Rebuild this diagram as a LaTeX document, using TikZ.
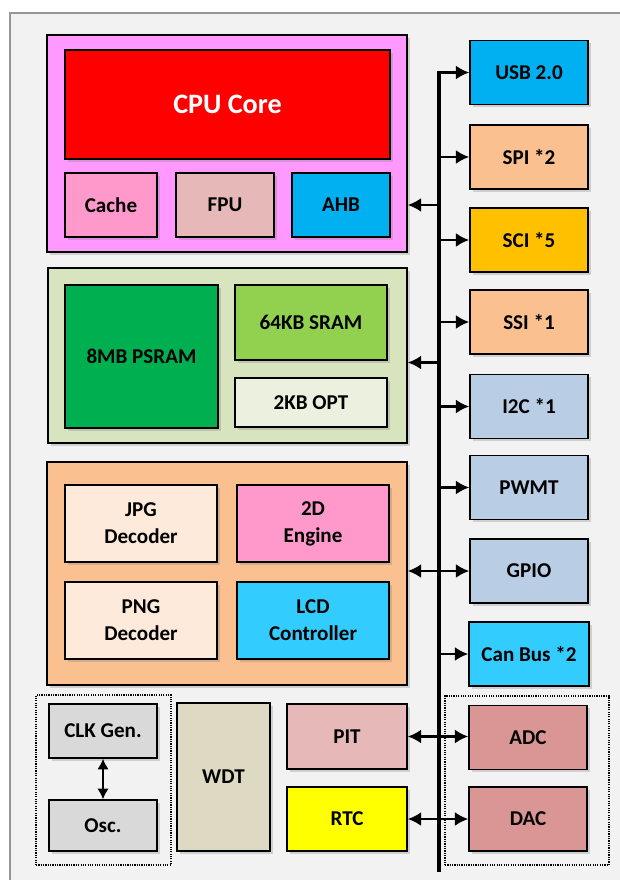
\documentclass[tikz,border=0pt]{standalone}
\usepackage{fontspec}
\setmainfont{Carlito}
\definecolor{FrameGray}{RGB}{242, 242, 242}
\definecolor{FrameLine}{RGB}{150, 150, 150}
\definecolor{CpuViolet}{RGB}{255, 153, 255}
\definecolor{CoreRed}{RGB}{255, 0, 0}
\definecolor{CachePink}{RGB}{255, 153, 204}
\definecolor{FpuRose}{RGB}{230, 185, 184}
\definecolor{BusBlue}{RGB}{0, 176, 240}
\definecolor{MemGreen}{RGB}{215, 228, 189}
\definecolor{PsramGreen}{RGB}{0, 176, 80}
\definecolor{SramGreen}{RGB}{146, 208, 80}
\definecolor{OptGreen}{RGB}{235, 241, 222}
\definecolor{GfxOrange}{RGB}{250, 192, 144}
\definecolor{DecCream}{RGB}{253, 234, 218}
\definecolor{LcdCyan}{RGB}{51, 204, 255}
\definecolor{SciGold}{RGB}{255, 192, 0}
\definecolor{SerBlue}{RGB}{185, 205, 229}
\definecolor{ClkGray}{RGB}{217, 217, 217}
\definecolor{WdtTan}{RGB}{221, 217, 195}
\definecolor{RtcYellow}{RGB}{255, 255, 0}
\definecolor{AnaRed}{RGB}{217, 150, 148}
\usetikzlibrary{arrows.meta, shadows}

\begin{document}
\begin{tikzpicture}[x=0.03cm, y=-0.03cm,
    every node/.style={font=\fontsize{18}{23}\selectfont\bfseries},
    blk/.style={draw, rectangle, line width=1.2pt, inner sep=0pt, align=center,
        drop shadow={opacity=0.3, shadow xshift=2.5pt, shadow yshift=-2.5pt}},
    io/.style={blk, minimum width=3.54cm, minimum height=1.92cm},
    dotgrp/.style={draw, densely dotted, line width=1pt, inner sep=0pt},
    link/.style={line width=2.4pt, -{Latex[length=4mm, width=4.2mm]}},
    dlink/.style={line width=2.4pt, {Latex[length=4mm, width=4.2mm]}-{Latex[length=4mm, width=4.2mm]}}]
    \useasboundingbox (0,0) rectangle (619,880);
    \fill[white] (0,0) rectangle (619,880);
    \draw[FrameLine, fill=FrameGray, line width=1.5pt] (10,13) rectangle (640,900);

    % CPU group
    \node[blk, fill=CpuViolet, minimum width=10.8cm, minimum height=6.51cm] (cpugrp) at (227,143.5) {};
    \node[blk, fill=CoreRed, text=white, minimum width=9.75cm, minimum height=3.27cm, font=\fontsize{24}{28}\selectfont\bfseries] (core) at (227.5,104.5) {CPU Core};
    \node[blk, fill=CachePink, minimum width=2.76cm, minimum height=1.92cm] (cache) at (111,205) {Cache};
    \node[blk, fill=FpuRose, minimum width=2.94cm, minimum height=1.92cm] (fpu) at (225,205) {FPU};
    \node[blk, fill=BusBlue, minimum width=2.94cm, minimum height=1.92cm] (ahb) at (341,205) {AHB};

    % memory group
    \node[blk, fill=MemGreen, minimum width=10.77cm, minimum height=5.25cm] (memgrp) at (227.5,355.5) {};
    \node[blk, fill=PsramGreen, minimum width=4.59cm, minimum height=4.29cm] (psram) at (141.5,356.5) {8MB PSRAM};
    \node[blk, fill=SramGreen, minimum width=4.56cm, minimum height=2.25cm] (sram) at (311,322.5) {64KB SRAM};
    \node[blk, fill=OptGreen, minimum width=4.56cm, minimum height=1.47cm] (opt) at (311,402.5) {2KB OPT};

    % graphics group
    \node[blk, fill=GfxOrange, minimum width=10.8cm, minimum height=6.69cm] (gfxgrp) at (227,573.5) {};
    \node[blk, fill=DecCream, minimum width=4.56cm, minimum height=2.31cm] (jpg) at (141,523.5) {JPG\\Decoder};
    \node[blk, fill=CachePink, minimum width=4.56cm, minimum height=2.31cm] (eng) at (313,523.5) {2D\\Engine};
    \node[blk, fill=DecCream, minimum width=4.56cm, minimum height=2.31cm] (png) at (141,620.5) {PNG\\Decoder};
    \node[blk, fill=LcdCyan, minimum width=4.56cm, minimum height=2.31cm] (lcd) at (313,620.5) {LCD\\Controller};

    % clock and timers
    \node[dotgrp, minimum width=4.05cm, minimum height=5.1cm] (clkgrp) at (103.5,780) {};
    \node[blk, fill=ClkGray, minimum width=3.24cm, minimum height=1.62cm] (clk) at (103,731) {CLK Gen.};
    \node[blk, fill=ClkGray, minimum width=3.24cm, minimum height=1.53cm] (osc) at (103,825.5) {Osc.};
    \node[blk, fill=WdtTan, minimum width=2.79cm, minimum height=4.44cm] (wdt) at (223.5,777) {WDT};
    \node[blk, fill=FpuRose, minimum width=3.6cm, minimum height=1.95cm] (pit) at (347,736.5) {PIT};
    \node[blk, fill=RtcYellow, minimum width=3.6cm, minimum height=1.92cm] (rtc) at (347,819) {RTC};

    % peripherals
    \node[io, fill=BusBlue] (usb) at (529,72.5) {USB 2.0};
    \node[io, fill=GfxOrange] (spi) at (529,157) {SPI *2};
    \node[io, fill=SciGold] (sci) at (529,240) {SCI *5};
    \node[io, fill=GfxOrange] (ssi) at (529,322) {SSI *1};
    \node[io, fill=SerBlue] (iic) at (529,406.5) {I2C *1};
    \node[io, fill=SerBlue] (pwmt) at (529,487.5) {PWMT};
    \node[io, fill=SerBlue] (gpio) at (529,571) {GPIO};
    \node[io, fill=LcdCyan, minimum width=3.6cm] (can) at (529,654) {Can Bus *2};
    \node[dotgrp, minimum width=4.92cm, minimum height=5.07cm] (anagrp) at (527,780.5) {};
    \node[io, fill=AnaRed] (adc) at (528,737.5) {ADC};
    \node[io, fill=AnaRed] (dac) at (528,819) {DAC};

    % bus
    \coordinate (bustop) at (439,72.5);
    \coordinate (busbot) at (439,872);
    \draw[line width=3.4pt] (busbot) -- (bustop);
    \draw[link] ([xshift=-1.7pt]bustop) -- (usb.west);
    \foreach \p in {spi, sci, ssi, iic, pwmt, can}
        \draw[link] (\p.west -| bustop) -- (\p.west);
    \draw[link] (ahb -| bustop) -- (ahb -| cpugrp.east);
    \draw[link] ([yshift=-6pt]memgrp.east -| bustop) -- ([yshift=-6pt]memgrp.east);
    \draw[dlink] (gpio.west -| gfxgrp.east) -- (gpio.west);
    \draw[dlink] (pit.east) -- (pit.east -| adc.west);
    \draw[dlink] (rtc.east) -- (rtc.east -| dac.west);
    \draw[line width=1.6pt, {Latex[length=3.2mm, width=3.4mm]}-{Latex[length=3.2mm, width=3.4mm]}] (clk.south) -- (osc.north);
\end{tikzpicture}
\end{document}
